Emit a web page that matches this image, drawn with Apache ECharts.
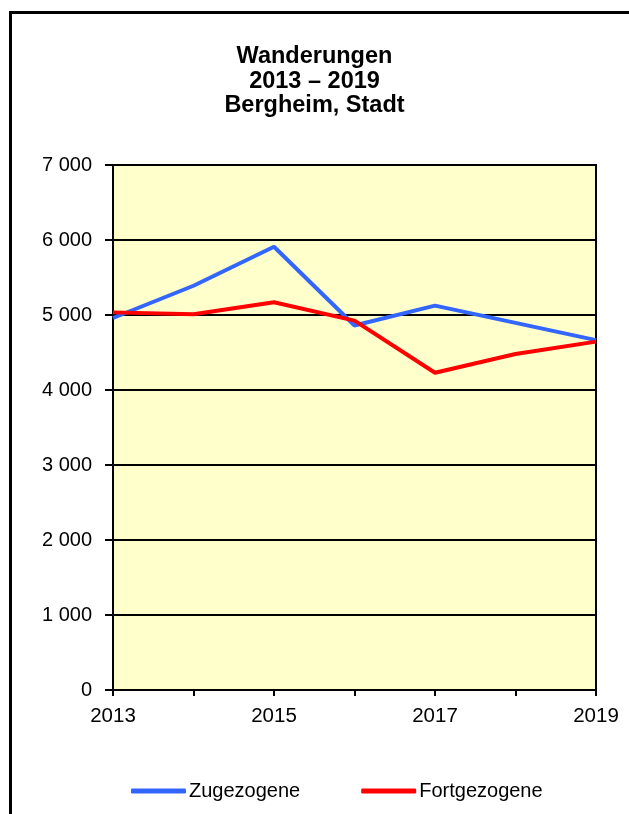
<!DOCTYPE html>
<html><head><meta charset="utf-8">
<script src="https://cdn.jsdelivr.net/npm/echarts@6/dist/echarts.min.js"></script>
<style>html,body{margin:0;padding:0;background:#fff}#c{width:629px;height:814px}</style>
</head><body><div id="c"></div>
<script>
const years = ['2013','2014','2015','2016','2017','2018','2019'];
const zugezogene = [4960, 5390, 5910, 4860, 5125, 4895, 4665];
const fortgezogene = [5035, 5010, 5170, 4925, 4230, 4480, 4645];
const titleLines = ['Wanderungen', '2013 – 2019', 'Bergheim, Stadt'];
const seriesNames = ['Zugezogene', 'Fortgezogene'];

const chart = echarts.init(document.getElementById('c'));
const font = 'Arial, "Liberation Sans", sans-serif';
chart.setOption({
  animation: false,
  textStyle: {fontFamily: font},
  title: {
    text: titleLines.join('\n'),
    left: 'center', top: 39,
    textStyle: {fontSize: 23.5, fontWeight: 'bold', color: '#000', lineHeight: 24.7, fontFamily: font}
  },
  graphic: [{
    type: 'rect', left: 8, top: 10, z: -1,
    shape: {width: 700, height: 900},
    style: {fill: 'none', stroke: '#000', lineWidth: 3}
  }],
  legend: {
    left: 126, top: 776, itemGap: 61,
    itemWidth: 55, itemHeight: 5, icon: 'roundRect',
    textStyle: {fontSize: 20, color: '#000', fontFamily: font, padding: [0,0,0,-2]},
    data: seriesNames
  },
  grid: {left: 113, right: 33, top: 165, bottom: 124, show: true, backgroundColor: '#FFFFCC', borderColor: '#000', borderWidth: 2},
  xAxis: {
    type: 'category', data: years, boundaryGap: false,
    axisLine: {lineStyle: {color: '#000', width: 2}},
    axisTick: {show: true, length: 6, lineStyle: {color: '#000', width: 2}, interval: 0},
    axisLabel: {fontSize: 20.5, color: '#000', margin: 16, interval: 1, fontFamily: font},
    splitLine: {show: false}
  },
  yAxis: {
    type: 'value', min: 0, max: 7000, interval: 1000,
    axisLine: {show: true, lineStyle: {color: '#000', width: 2}},
    axisTick: {show: true, length: 8, lineStyle: {color: '#000', width: 2}},
    axisLabel: {fontSize: 20, color: '#000', margin: 21, fontFamily: font,
      formatter: v => String(v).replace(/\B(?=(\d{3})+(?!\d))/g, ' ')},
    splitLine: {show: true, lineStyle: {color: '#000', width: 2}}
  },
  series: [
    {name: seriesNames[0], type: 'line', data: zugezogene, symbol: 'none', color: '#3366FF', lineStyle: {width: 4, color: '#3366FF'}},
    {name: seriesNames[1], type: 'line', data: fortgezogene, symbol: 'none', color: '#FF0000', lineStyle: {width: 4, color: '#FF0000'}}
  ]
});
</script></body></html>
